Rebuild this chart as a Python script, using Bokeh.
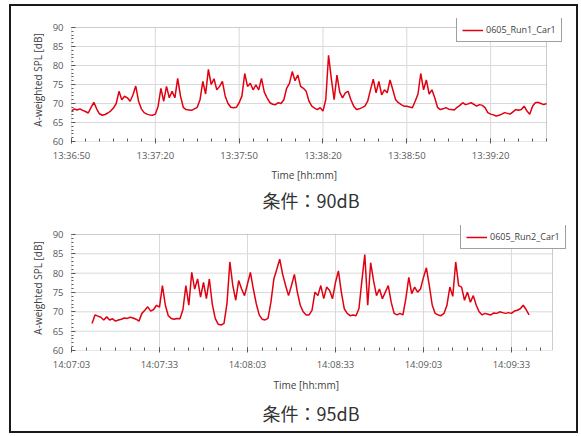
import pandas as pd
from bokeh.plotting import figure
from bokeh.layouts import column
from bokeh.models import (Range1d, FixedTicker, DatetimeTickFormatter, Legend,
                          LegendItem, BoxAnnotation, Title)
from bokeh.embed import file_html
from bokeh.resources import INLINE

# ---------------- data ----------------
run_date = "2023-06-05"

# Run 1 : one sample per second from 13:36:50
run1_start = "13:36:50"
run1_db = [
    68.0, 68.6, 68.3, 68.6, 68.2, 67.9, 67.5, 69.0, 70.3, 68.6,
    67.3, 66.9, 67.1, 67.5, 68.0, 68.8, 70.0, 73.2, 71.0, 71.9,
    71.5, 70.6, 72.3, 74.6, 70.6, 68.6, 67.6, 67.2, 67.0, 66.9,
    67.2, 69.3, 74.0, 70.6, 74.5, 71.5, 73.2, 71.5, 76.6, 72.0,
    69.0, 68.4, 68.3, 68.2, 68.6, 69.0, 71.0, 75.8, 72.5, 79.0,
    75.0, 76.5, 73.6, 74.5, 75.8, 72.0, 70.0, 69.0, 68.9, 69.0,
    70.2, 72.0, 77.9, 74.5, 75.3, 73.6, 74.9, 73.6, 76.6, 73.0,
    71.5, 70.2, 69.8, 69.7, 70.2, 70.0, 71.0, 74.0, 75.3, 78.4,
    76.0, 77.5, 74.5, 74.0, 73.2, 70.6, 69.3, 68.8, 68.4, 68.9,
    68.0, 71.0, 82.7, 76.5, 71.0, 77.5, 73.0, 71.5, 72.8, 73.2,
    71.0, 69.3, 68.4, 68.6, 68.9, 69.3, 70.6, 73.6, 76.4, 72.8,
    75.8, 72.3, 73.6, 72.8, 76.2, 73.6, 71.0, 70.2, 69.7, 69.3,
    69.3, 69.1, 68.9, 70.6, 72.5, 77.9, 73.6, 76.2, 72.5, 73.6,
    71.5, 69.0, 68.4, 68.6, 68.9, 68.5, 68.4, 68.3, 69.0, 69.5,
    70.2, 69.7, 69.9, 70.2, 69.8, 69.3, 69.7, 69.5, 68.9, 67.6,
    67.2, 67.0, 66.7, 66.9, 67.2, 67.6, 67.4, 67.2, 67.8, 68.4,
    68.2, 68.4, 69.3, 68.0, 67.2, 69.3, 70.2, 70.3, 70.0, 69.7, 70.0,
]
run1_ticks = ["13:36:50", "13:37:20", "13:37:50", "13:38:20", "13:38:50", "13:39:20"]
run1_end = "13:39:40"
run1_name = "0605_Run1_Car1"
run1_caption = "条件：90dB"

# Run 2 : one sample per second from 14:07:10
run2_start = "14:07:10"
run2_db = [
    67.0, 69.2, 68.9, 68.6, 67.9, 68.7, 67.9, 68.2, 67.6, 67.9,
    68.1, 68.4, 68.3, 68.6, 68.4, 68.1, 67.6, 69.6, 70.4, 71.3,
    70.2, 70.6, 71.7, 71.2, 76.8, 71.7, 69.0, 68.3, 68.1, 68.3,
    68.2, 70.6, 76.8, 71.7, 80.2, 75.9, 78.5, 73.8, 77.6, 73.4,
    78.5, 72.0, 68.3, 66.8, 66.6, 67.0, 72.1, 82.9, 76.8, 73.0,
    78.1, 75.9, 74.2, 77.2, 80.2, 75.9, 72.1, 69.2, 68.1, 67.9,
    68.3, 72.5, 78.5, 81.0, 83.6, 79.7, 76.8, 74.2, 76.8, 79.7,
    75.1, 71.7, 70.0, 69.2, 69.2, 70.4, 75.1, 74.2, 76.8, 73.4,
    76.4, 75.5, 73.4, 77.6, 80.6, 75.1, 70.8, 69.6, 69.0, 69.2,
    69.0, 70.8, 78.0, 84.8, 71.7, 82.7, 78.0, 74.2, 75.9, 73.4,
    75.1, 76.8, 72.5, 69.6, 69.2, 69.6, 69.2, 73.4, 78.9, 74.7,
    76.4, 75.1, 75.9, 78.9, 81.4, 76.8, 71.7, 69.6, 69.2, 69.0,
    69.6, 71.7, 76.4, 74.0, 82.9, 76.8, 76.4, 73.0, 75.1, 72.5,
    74.2, 71.7, 70.0, 69.2, 69.6, 69.4, 69.2, 69.7, 69.6, 70.0,
    69.8, 69.6, 69.8, 69.6, 70.2, 70.4, 70.8, 71.7, 70.6, 69.2,
]
run2_ticks = ["14:07:03", "14:07:33", "14:08:03", "14:08:33", "14:09:03", "14:09:33"]
run2_end = "14:09:47"
run2_name = "0605_Run2_Car1"
run2_caption = "条件：95dB"

y_label = "A-weighted SPL [dB]"
x_label = "Time [hh:mm]"
y_ticks = [60, 65, 70, 75, 80, 85, 90]

# ---------------- styling ----------------
LINE = "#e0000f"
GRID = "#d9d9d9"
AXIS = "#595959"
TXT = "#595959"
FONT = "Open Sans"
FIG_W = 565
LEFT, RIGHT = 60, 1          # frame spans 60 .. FIG_W-RIGHT in the figure


def ms(hms):
    return pd.Timestamp(run_date + " " + hms).value // 10**6


def make_chart(start, values, ticks, end, name, caption, height, top, bottom,
               vis_w, vis_h, legend_loc, lab_off, lab_standoff, cap_off,
               cap_standoff):
    t0 = pd.Timestamp(run_date + " " + start)
    times = [t0 + pd.Timedelta(seconds=i) for i in range(len(values))]
    x0, x1 = ms(ticks[0]), ms(end)
    y0, y1 = y_ticks[0], y_ticks[-1]
    major = [ms(t) for t in ticks]
    minor = list(range(x0, x1 + 1, 5000))
    y_minor = list(range(y0, y1 + 1))

    # the frame is a bit larger than the drawn plot box so that the legend,
    # which overlaps the box corner, is not clipped
    frame_w = FIG_W - LEFT - RIGHT
    frame_h = height - top - bottom
    xr_end = x0 + (x1 - x0) * frame_w / vis_w
    yr_end = y0 + (y1 - y0) * frame_h / vis_h

    p = figure(width=FIG_W, height=height, x_axis_type="datetime",
               x_range=Range1d(x0, xr_end), y_range=Range1d(y0, yr_end),
               output_backend="svg", toolbar_location=None,
               min_border_left=LEFT, min_border_right=RIGHT,
               min_border_top=top, min_border_bottom=bottom,
               background_fill_color="white", border_fill_color="white")
    p.outline_line_color = None
    p.xgrid.visible = False
    p.ygrid.visible = False

    # grid lines limited to the plot box
    p.segment(x0=major[1:], y0=[y0] * (len(major) - 1),
              x1=major[1:], y1=[y1] * (len(major) - 1),
              line_color=GRID, line_width=1)
    p.segment(x0=[x0] * (len(y_ticks) - 2), y0=y_ticks[1:-1],
              x1=[x1] * (len(y_ticks) - 2), y1=y_ticks[1:-1],
              line_color=GRID, line_width=1)

    r = p.line(times, values, line_color=LINE, line_width=1.5)

    p.add_layout(BoxAnnotation(left=x0, right=x1, bottom=y0, top=y1,
                               fill_alpha=0, line_color=AXIS, line_width=1))

    xa = p.xaxis[0]
    xa.ticker = FixedTicker(ticks=major, minor_ticks=minor)
    fmt = "%H:%M:%S"
    xa.formatter = DatetimeTickFormatter(
        microseconds=fmt, milliseconds=fmt, seconds=fmt, minsec=fmt,
        minutes=fmt, hourmin=fmt, hours=fmt, days=fmt)
    xa.major_tick_in = 3
    xa.major_tick_out = 2
    xa.minor_tick_in = 3
    xa.minor_tick_out = 0
    xa.major_label_standoff = 5

    ya = p.yaxis[0]
    ya.ticker = FixedTicker(ticks=y_ticks, minor_ticks=y_minor)
    ya.axis_label = y_label
    ya.major_tick_in = 4
    ya.major_tick_out = 0
    ya.minor_tick_in = 2
    ya.minor_tick_out = 0
    ya.major_label_standoff = 8

    for ax in (xa, ya):
        ax.axis_line_color = None
        ax.major_tick_line_color = AXIS
        ax.minor_tick_line_color = AXIS
        ax.major_label_text_font = FONT
        ax.major_label_text_font_size = "9.5px"
        ax.major_label_text_color = TXT
        ax.axis_label_text_font = FONT
        ax.axis_label_text_font_size = "10px"
        ax.axis_label_text_font_style = "normal"
        ax.axis_label_text_color = "#404040"
        ax.axis_label_standoff = 5

    # x-axis label and caption below the plot box
    p.add_layout(Title(text=x_label, align="left", offset=lab_off,
                       text_font=FONT, text_font_size="10px",
                       text_font_style="normal", text_color="#404040",
                       standoff=lab_standoff), "below")
    p.add_layout(Title(text=caption, align="left", offset=cap_off,
                       text_font="Noto Sans CJK JP", text_font_size="18px",
                       text_font_style="normal", text_color="#333333",
                       standoff=cap_standoff), "below")

    legend = Legend(items=[LegendItem(label=name, renderers=[r])],
                    location=legend_loc,
                    border_line_color="#404040", border_line_width=1,
                    background_fill_color="white", background_fill_alpha=1,
                    label_text_font=FONT, label_text_font_size="9px",
                    label_text_color="#404040",
                    glyph_width=21, glyph_height=12, label_height=12,
                    label_standoff=3, padding=5, margin=0, spacing=0)
    p.add_layout(legend)
    return p


p1 = make_chart(run1_start, run1_db, run1_ticks, run1_end, run1_name,
                run1_caption, 216, 12, 81, 475, 114, (385, 99),
                200, 3, 191, 2)
p2 = make_chart(run2_start, run2_db, run2_ticks, run2_end, run2_name,
                run2_caption, 209, 3, 81, 481, 116, (389, 101),
                202, 4, 191, 9)

layout = column(p1, p2, spacing=0,
                styles={"border": "2px solid #1a1a1a", "background": "white",
                        "margin-left": "9px", "margin-top": "4px"})

open("out.html", "w").write(file_html(layout, INLINE))
